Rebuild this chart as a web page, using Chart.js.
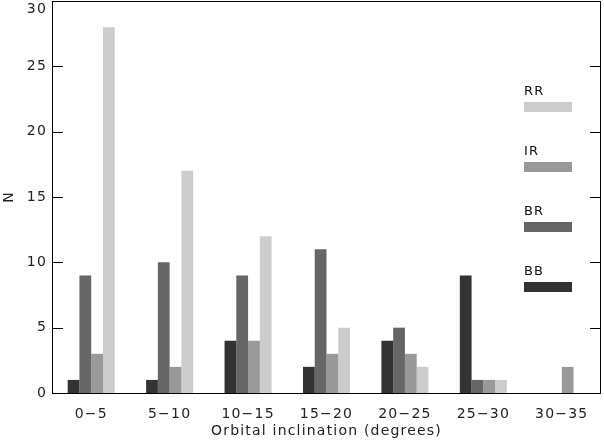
<!DOCTYPE html>
<html>
<head>
<meta charset="utf-8">
<script src="https://cdn.jsdelivr.net/npm/chart.js@4.4.1/dist/chart.umd.min.js"></script>
<style>
  html, body { margin: 0; padding: 0; background: #fff; }
  #wrap { width: 604px; height: 441px; }
</style>
</head>
<body>
<div id="wrap"><canvas id="incChart" width="604" height="441"></canvas></div>
<script>
// bins of orbital inclination
const bins = ['0\u22125', '5\u221210', '10\u221215', '15\u221220', '20\u221225', '25\u221230', '30\u221235'];

// counts per binary type
const bbCounts = [1, 1, 4, 2, 4, 9, 0];
const brCounts = [9, 10, 9, 11, 5, 1, 0];
const irCounts = [3, 2, 4, 3, 3, 1, 2];
const rrCounts = [28, 17, 12, 5, 2, 1, 0];

const yTicks = [0, 5, 10, 15, 20, 25, 30];
const yMax = 30;

const FONT = 'DejaVu Sans';

// wide, airy lettering like the original plot
const spacingPlugin = {
    id: 'spacing',
    beforeDraw(chart) { chart.ctx.letterSpacing = '1.2px'; }
};

// frame, inward ticks and the legend drawn inside the plot
const framePlugin = {
    id: 'frame',
    afterDatasetsDraw(chart) {
        const { ctx, chartArea: a, scales } = chart;
        const y = scales.y;
        ctx.save();
        ctx.strokeStyle = '#000';
        ctx.lineWidth = 1;
        ctx.strokeRect(a.left + 0.5, a.top + 0.5, a.right - a.left - 1, a.bottom - a.top);
        // ticks pointing into the plot on both sides
        yTicks.forEach(v => {
            const py = Math.round(y.getPixelForValue(v)) + 0.5;
            ctx.beginPath();
            ctx.moveTo(a.left, py); ctx.lineTo(a.left + 11, py);
            ctx.moveTo(a.right, py); ctx.lineTo(a.right - 11, py);
            ctx.stroke();
        });
        // top tick label is pushed down so it stays on the canvas
        ctx.font = '14px "' + FONT + '"';
        ctx.fillStyle = '#222';
        ctx.textAlign = 'right';
        ctx.textBaseline = 'middle';
        ctx.fillText(String(yMax), a.left - 5, y.getPixelForValue(yMax) + 8);
        // legend: RR on top, BB at bottom
        const order = chart.data.datasets.slice().reverse();
        ctx.font = '13px "' + FONT + '"';
        ctx.textAlign = 'left';
        order.forEach((ds, i) => {
            const top = 86 + i * 60;
            ctx.fillStyle = '#111';
            ctx.fillText(ds.label, 524, top + 6);
            ctx.fillStyle = ds.backgroundColor;
            ctx.fillRect(524, top + 16, 48, 10);
        });
        ctx.restore();
    }
};

const ctx = document.getElementById('incChart').getContext('2d');
const incChart = new Chart(ctx, {
    type: 'bar',
    data: {
        labels: bins,
        datasets: [
            { label: 'BB', data: bbCounts, backgroundColor: '#333333' },
            { label: 'BR', data: brCounts, backgroundColor: '#666666' },
            { label: 'IR', data: irCounts, backgroundColor: '#999999' },
            { label: 'RR', data: rrCounts, backgroundColor: '#cccccc' }
        ]
    },
    options: {
        responsive: false,
        animation: false,
        layout: { padding: { top: 1, right: 3, left: 0, bottom: 0 } },
        datasets: { bar: { categoryPercentage: 0.6, barPercentage: 1.0 } },
        plugins: {
            legend: { display: false },
            tooltip: { enabled: false }
        },
        scales: {
            x: {
                grid: { display: false, drawTicks: false },
                border: { display: false },
                ticks: { color: '#222', padding: 13, font: { family: FONT, size: 14 } },
                title: {
                    display: true,
                    text: 'Orbital inclination (degrees)',
                    color: '#222',
                    padding: { top: 0, bottom: 1 },
                    font: { family: FONT, size: 14 }
                },
                afterFit(s) { s.height = 48; s.paddingLeft = 0; s.paddingRight = 0; }
            },
            y: {
                min: 0,
                max: yMax,
                grid: { display: false, drawTicks: false },
                border: { display: false },
                ticks: {
                    stepSize: 5,
                    color: '#222',
                    padding: 5,
                    font: { family: FONT, size: 14 },
                    callback: v => (v === yMax ? '' : v)
                },
                title: {
                    display: true,
                    text: 'N',
                    color: '#222',
                    padding: 1,
                    font: { family: FONT, size: 14 }
                },
                afterFit(s) { s.width = 52; s.paddingTop = 0; s.paddingBottom = 0; }
            }
        }
    },
    plugins: [spacingPlugin, framePlugin]
});
</script>
</body>
</html>
